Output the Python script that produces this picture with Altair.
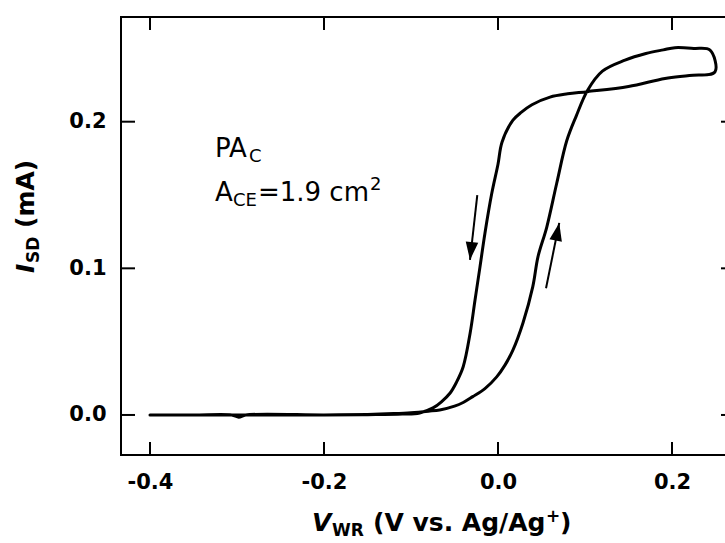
import math
import altair as alt
import pandas as pd

# ---------------- data ----------------
# forward scan (-0.4 V -> +0.25 V)
fwd_v = [-0.400, -0.350, -0.300, -0.250, -0.200, -0.150, -0.120, -0.100, -0.080,
         -0.067, -0.050, -0.040, -0.029, -0.015, -0.0015, 0.008, 0.017, 0.0287,
         0.040, 0.046, 0.056, 0.0675, 0.079, 0.090, 0.103, 0.120, 0.146, 0.170,
         0.190, 0.2034, 0.225, 0.2437]
fwd_i = [0.0, 0.0, 0.0, 0.0, 0.0, 0.0004, 0.0010, 0.0016, 0.0026,
         0.0034, 0.0060, 0.0085, 0.0125, 0.0180, 0.0260, 0.0340, 0.0440, 0.0627,
         0.0875, 0.1080, 0.1280, 0.1580, 0.1870, 0.2040, 0.2215, 0.2345, 0.2420, 0.2465,
         0.2490, 0.2505, 0.2500, 0.2488]
# reverse scan (+0.25 V -> -0.4 V)
rev_v = [0.2494, 0.220, 0.192, 0.150, 0.103, 0.080, 0.0598, 0.039, 0.027, 0.0172,
         0.0046, 0.0, -0.0072, -0.015, -0.0207, -0.0264, -0.032, -0.040, -0.048,
         -0.055, -0.065, -0.0747, -0.090, -0.110, -0.150, -0.200, -0.290, -0.298,
         -0.306, -0.350, -0.400]
rev_i = [0.2340, 0.2315, 0.2295, 0.2240, 0.2205, 0.2190, 0.2168, 0.2116, 0.2065, 0.2010,
         0.1860, 0.1710, 0.1510, 0.1240, 0.1010, 0.0784, 0.0559, 0.0329, 0.0220,
         0.0150, 0.0090, 0.0048, 0.0014, 0.0006, 0.0002, 0.0, 0.0, -0.0015,
         0.0, 0.0, 0.0]

x_ticks = [-0.4, -0.2, 0.0, 0.2]
y_ticks = [0.0, 0.1, 0.2]

# arrows (start -> tip)
arrow_v0 = [-0.0238, 0.0552]
arrow_i0 = [0.1500, 0.0864]
arrow_v1 = [-0.0322, 0.0704]
arrow_i1 = [0.1057, 0.1310]

# annotation anchor (data units)
note_v = -0.3253
note_i = [0.1759, 0.1459]

# ---------------- layout ----------------
W, H = 614, 438
X_DOM = [-0.4333, 0.2724]
Y_DOM = [-0.0273, 0.2714]
xs = alt.Scale(domain=X_DOM, nice=False, zero=False)
ys = alt.Scale(domain=Y_DOM, nice=False, zero=False)
FONT = "DejaVu Sans"

curve = pd.DataFrame({
    "V": fwd_v + rev_v,
    "I": fwd_i + rev_i,
    "k": list(range(len(fwd_v) + len(rev_v))),
})

x_axis = alt.Axis(
    values=x_ticks,
    labelExpr="datum.value < 0 ? '-' + format(-datum.value, '.1f') : format(datum.value, '.1f')",
    labelFont=FONT, labelFontSize=21, labelFontWeight="bold", labelColor="black",
    labelPadding=16, ticks=False, tickSize=0, domain=False, grid=False,
    title="", labelFlush=False, labelOverlap=False,
)
y_axis = alt.Axis(
    values=y_ticks, format=".1f",
    labelFont=FONT, labelFontSize=21, labelFontWeight="bold", labelColor="black",
    labelPadding=15, ticks=False, tickSize=0, domain=False, grid=False,
    title="", labelFlush=False, labelOverlap=False,
)


def X(field):
    return alt.X(field, scale=xs, axis=x_axis)


def Y(field):
    return alt.Y(field, scale=ys, axis=y_axis)


line = alt.Chart(curve).mark_line(
    color="black", strokeWidth=3, interpolate="catmull-rom",
    strokeJoin="round", strokeCap="round",
).encode(x=X("V:Q"), y=Y("I:Q"), order="k:Q")

TL = 13
xt = pd.DataFrame({"V": x_ticks})
yt = pd.DataFrame({"I": y_ticks})
rule_kw = dict(color="black", strokeWidth=2)
bottom_ticks = alt.Chart(xt).mark_rule(**rule_kw).encode(
    x=X("V:Q"), y=alt.value(H), y2=alt.value(H - TL))
top_ticks = alt.Chart(xt).mark_rule(**rule_kw).encode(
    x=X("V:Q"), y=alt.value(0), y2=alt.value(TL))
left_ticks = alt.Chart(yt).mark_rule(**rule_kw).encode(
    y=Y("I:Q"), x=alt.value(0), x2=alt.value(TL + 1))
right_ticks = alt.Chart(yt).mark_rule(**rule_kw).encode(
    y=Y("I:Q"), x=alt.value(W - TL - 1), x2=alt.value(W))

# arrows
sx = W / (X_DOM[1] - X_DOM[0])
sy = H / (Y_DOM[1] - Y_DOM[0])
angles = []
for a, b, c, d in zip(arrow_v0, arrow_v1, arrow_i0, arrow_i1):
    dxp = (b - a) * sx
    dyp = -(d - c) * sy
    angles.append(math.degrees(math.atan2(-dxp, dyp)) % 360)
arr = pd.DataFrame({"V": arrow_v0, "I": arrow_i0, "V2": arrow_v1, "I2": arrow_i1, "ang": angles})

shafts = alt.Chart(arr).mark_rule(color="black", strokeWidth=2).encode(
    x=X("V:Q"), y=Y("I:Q"), x2="V2:Q", y2="I2:Q")
HEAD = "M0,0 L-0.7,-2 L0.7,-2 Z"
heads = alt.Chart(arr).mark_point(
    shape=HEAD, filled=True, size=324, color="black", opacity=1, strokeWidth=0
).encode(x=X("V2:Q"), y=Y("I2:Q"), angle=alt.Angle("ang:Q", scale=None))


def piece(text, dx=0, dy=0, size=24, weight="normal", style="normal", angle=0,
          px=None, py=None, v=None, i=None):
    df = pd.DataFrame({"t": [text], "V": [v if v is not None else 0.0],
                       "I": [i if i is not None else 0.0]})
    mk = alt.Chart(df).mark_text(
        align="left", baseline="alphabetic", dx=dx, dy=dy, fontSize=size,
        fontWeight=weight, fontStyle=style, font=FONT, color="black", angle=angle)
    if px is not None:
        return mk.encode(x=alt.value(px), y=alt.value(py), text="t:N")
    return mk.encode(x=X("V:Q"), y=Y("I:Q"), text="t:N")


# annotation PA_C / A_CE = 1.9 cm^2
NS, SS = 26, 18
texts = [
    piece("PA", size=NS, v=note_v, i=note_i[0]),
    piece("C", dx=34, dy=5, size=SS, v=note_v, i=note_i[0]),
    piece("A", size=NS, v=note_v, i=note_i[1]),
    piece("CE", dx=18, dy=5, size=SS, v=note_v, i=note_i[1]),
    piece("=1.9 cm", dx=43, size=NS, v=note_v, i=note_i[1]),
    piece("2", dx=155, dy=-11, size=SS, v=note_v, i=note_i[1]),
]

# x title: V_WR (V vs. Ag/Ag+)
TS, TSS = 25, 17
XT_X, XT_Y = 191, 514
texts += [
    piece("V", size=TS, weight="bold", style="italic", px=XT_X, py=XT_Y),
    piece("WR", dx=20, dy=5, size=TSS, weight="bold", px=XT_X, py=XT_Y),
    piece("(V vs. Ag/Ag", dx=61, size=TS, weight="bold", px=XT_X, py=XT_Y),
    piece("+", dx=234, dy=-9, size=TSS, weight="bold", px=XT_X, py=XT_Y),
    piece(")", dx=248, size=TS, weight="bold", px=XT_X, py=XT_Y),
]

# y title: I_SD (mA), rotated
YT_X, YT_Y = -87, 256
texts += [
    piece("I", size=TS, weight="bold", style="italic", angle=270, px=YT_X, py=YT_Y),
    piece("SD", dx=10, dy=5, size=TSS, weight="bold", angle=270, px=YT_X, py=YT_Y),
    piece("(mA)", dx=45, size=TS, weight="bold", angle=270, px=YT_X, py=YT_Y),
]

chart = alt.layer(
    line, bottom_ticks, top_ticks, left_ticks, right_ticks, shafts, heads, *texts
).properties(
    width=W, height=H,
    autosize=alt.AutoSizeParams(type="none"),
    padding={"left": 121, "top": 17, "right": -10, "bottom": 88},
    background="white",
).configure_view(stroke="black", strokeWidth=2)

chart.save("out.html", embed_options={"renderer": "svg", "actions": False})
